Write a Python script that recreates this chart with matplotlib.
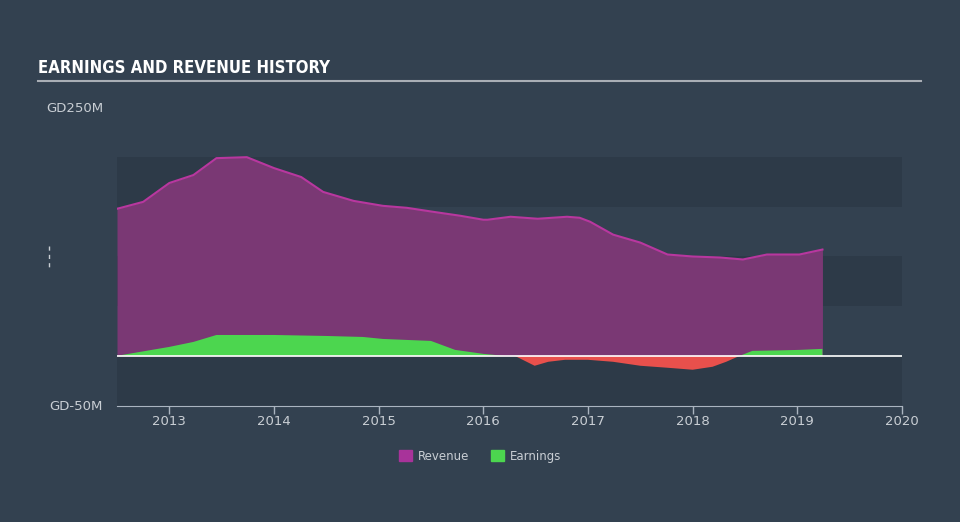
#!/usr/bin/env python

import numpy as np
import matplotlib.pyplot as plt
from matplotlib.lines import Line2D
from matplotlib.patches import Patch

# Revenue / earnings history (GD millions), dates as decimal years
rev_dates = [2012.50, 2012.75, 2013.00, 2013.23, 2013.45, 2013.74, 2014.00,
             2014.26, 2014.47, 2014.76, 2015.04, 2015.27, 2015.52, 2015.78,
             2016.00, 2016.04, 2016.26, 2016.52, 2016.80, 2016.92, 2017.02,
             2017.24, 2017.50, 2017.76, 2018.00, 2018.26, 2018.48, 2018.71,
             2019.02, 2019.24]
revenue = [148, 155, 174, 182, 199, 200, 189, 180, 165, 156, 151, 149, 145,
           141, 137, 137, 140, 138, 140, 139, 135, 122, 114, 102, 100, 99,
           97, 102, 102, 107]

earn_dates = [2012.50, 2013.00, 2013.23, 2013.45, 2013.74, 2014.00, 2014.50,
              2014.85, 2015.04, 2015.50, 2015.73, 2016.00, 2016.20, 2016.30,
              2016.49, 2016.62, 2016.78, 2017.00, 2017.24, 2017.50, 2017.76,
              2018.00, 2018.19, 2018.32, 2018.45, 2018.57, 2018.83, 2019.02,
              2019.24]
earnings = [0, 9, 14, 21, 21, 21, 20, 19, 17, 15, 6, 2, 0, 0, -10, -6, -4,
            -4, -6, -10, -12, -14, -11, -6, 0, 5, 5.5, 6, 7]

years = [2013, 2014, 2015, 2016, 2017, 2018, 2019, 2020]
bands = [(150, 200), (50, 100), (-50, 0)]

bg = '#334150'
band_col = '#2d3a48'
text_col = '#c9ced4'

fig = plt.figure(figsize=(9.6, 5.22), dpi=100, facecolor=bg)
ax = fig.add_axes([117 / 960, 1 - 405.5 / 522, 785 / 960, 298 / 522])
ax.set_facecolor('none')

for lo, hi in bands:
    ax.axhspan(lo, hi, color=band_col, lw=0, zorder=0)

rd = np.array(rev_dates)
rv = np.array(revenue)
ax.fill_between(rd, 0, rv, color='#7a3874', lw=0, zorder=1)
ax.plot(rd, rv, color='#b8379f', lw=1.5, zorder=2)

ed = np.array(earn_dates)
ev = np.array(earnings)
ax.fill_between(ed, 0, ev, where=ev >= 0, interpolate=True,
                color='#4cd64f', lw=0, zorder=3)
ax.fill_between(ed, 0, ev, where=ev <= 0, interpolate=True,
                color='#e8504c', lw=0, zorder=3)

ax.axhline(0, color='white', lw=1.2, zorder=4)

ax.set_xlim(2012.5, 2020)
ax.set_ylim(-50, 250)
ax.set_xticks(years)
ax.set_xticklabels([str(y) for y in years])
ax.set_yticks([-50, 250])
ax.set_yticklabels(['GD-50M', 'GD250M'])
ax.tick_params(axis='x', colors='#aab4c0', length=6, width=1,
               labelcolor=text_col, labelsize=9.5, pad=1)
ax.tick_params(axis='y', length=0, labelcolor=text_col, labelsize=9.5, pad=10)

for side in ['top', 'right', 'left']:
    ax.spines[side].set_visible(False)
ax.spines['bottom'].set_color('#aab4c0')
ax.spines['bottom'].set_bounds(2012.5, 2020)

# title and rule
fig.text(38 / 960, 1 - 68 / 522, 'EARNINGS AND REVENUE HISTORY',
         color='white', fontsize=12, fontweight='bold', fontstretch='condensed',
         family=['DejaVu Sans'], va='center')
fig.add_artist(Line2D([38 / 960, 921 / 960], [1 - 81 / 522, 1 - 81 / 522],
                      color='#a9aeb5', lw=1.5))

# little dashed marker on the left
fig.add_artist(Line2D([48.5 / 960, 48.5 / 960],
                      [1 - 246 / 522, 1 - 268 / 522],
                      color='#c9ced4', lw=1, ls=(0, (3, 3))))

handles = [Patch(color='#a8339a', label='Revenue'),
           Patch(color='#4cd64f', label='Earnings')]
fig.legend(handles=handles, loc='center', bbox_to_anchor=(0.5, 1 - 456 / 522),
           ncol=2, frameon=False, labelcolor=text_col, fontsize=8.5,
           handlelength=1.1, handleheight=1.1, columnspacing=1.8,
           handletextpad=0.5)

fig.savefig('out.png', dpi=100, facecolor=bg)
